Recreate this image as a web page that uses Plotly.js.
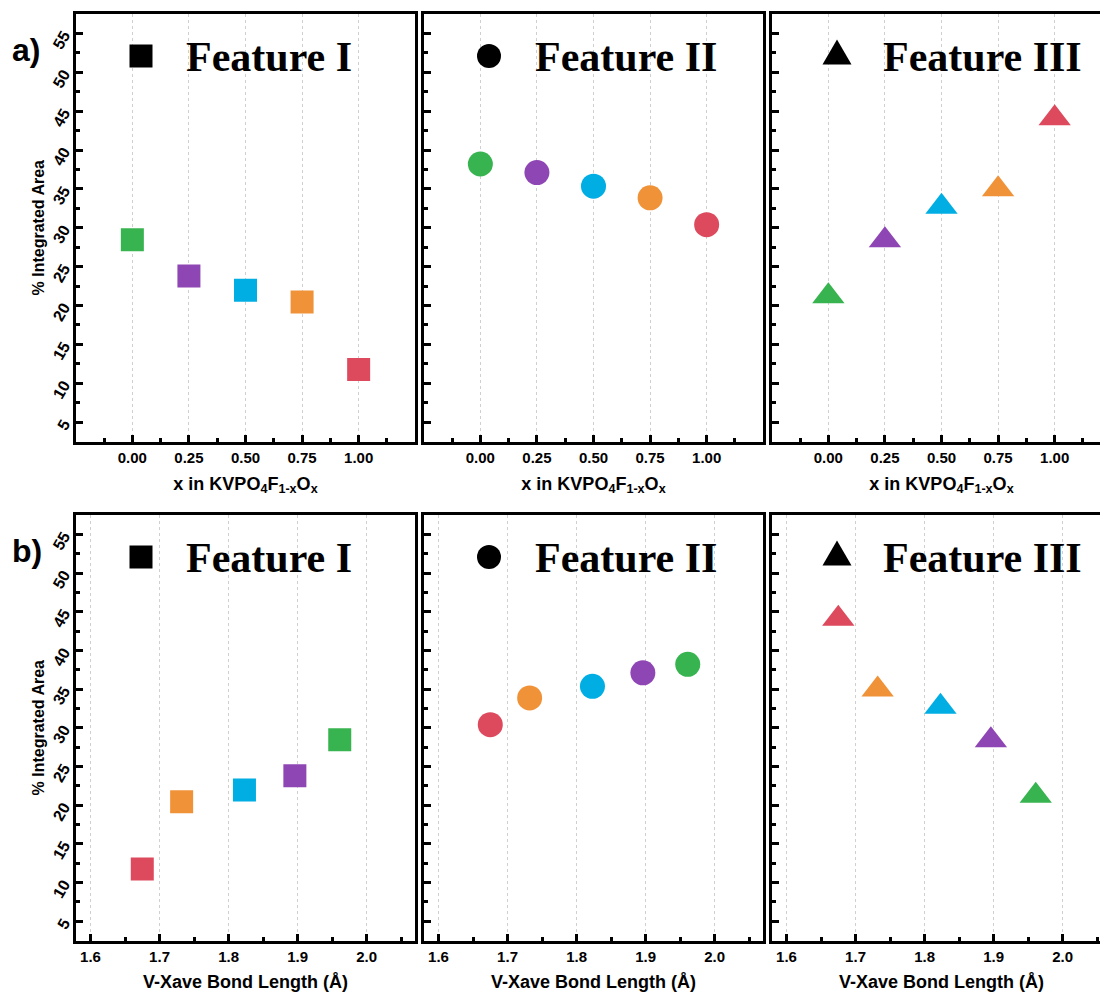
<!DOCTYPE html>
<html>
<head>
<meta charset="utf-8">
<script src="https://cdn.plot.ly/plotly-3.0.1.min.js"></script>
<style>html,body{margin:0;padding:0;overflow:hidden;background:#fff;}</style>
</head>
<body>
<div id="chart"></div>
<script>
// ---- data ----
const xComp = [0.00, 0.25, 0.50, 0.75, 1.00];
const bondLength = [1.961, 1.896, 1.823, 1.732, 1.675];
const featureI = [28.45, 23.8, 21.95, 20.45, 11.75];
const featureII = [38.2, 37.1, 35.35, 33.85, 30.4];
const featureIII = [21.2, 28.4, 32.7, 34.95, 44.1];
const pointColors = ['#37B34F', '#8E46B4', '#00AEE4', '#F09238', '#DD4A5D'];
const featureNames = ['Feature I', 'Feature II', 'Feature III'];
const panelLabels = ['a)', 'b)'];
const topXTitle = 'x in KVPO<sub>4</sub>F<sub>1-x</sub>O<sub>x</sub>';
const botXTitle = 'V-Xave Bond Length (Å)';
const yTitle = '% Integrated Area';

const W = 1120, H = 992;
const colPx = [[76, 415], [424, 763], [772, 1111]];
const rowPx = [[14, 441.5], [515, 940.5]];

const series = [featureI, featureII, featureIII];
const symbols = ['square', 'circle', 'triangle-up'];
const sizes = [23, 25, 28];

const tickFont = {family: 'Liberation Sans, Arial, sans-serif', size: 15, weight: 'bold', color: '#000'};
const yTickFont = {family: 'Liberation Sans, Arial, sans-serif', size: 16, weight: 'bold', color: '#000'};
const titleFont = {family: 'Liberation Sans, Arial, sans-serif', size: 18, weight: 'bold', color: '#000'};

const traces = [];
const layout = {
  width: W, height: H,
  margin: {l: 0, r: 0, t: 0, b: 0},
  paper_bgcolor: '#fff', plot_bgcolor: '#fff',
  showlegend: false,
  annotations: [], shapes: []
};

function axBase() {
  return {
    showline: true, linewidth: 3, linecolor: '#000', mirror: true,
    ticks: 'inside', ticklen: 7, tickwidth: 2.5, tickcolor: '#000',
    zeroline: false, tickfont: tickFont, fixedrange: true
  };
}

for (let r = 0; r < 2; r++) {
  for (let c = 0; c < 3; c++) {
    const idx = r * 3 + c + 1;
    const xn = 'xaxis' + (idx === 1 ? '' : idx);
    const yn = 'yaxis' + (idx === 1 ? '' : idx);
    const xs = r === 0 ? xComp : bondLength;
    traces.push({
      type: 'scatter', mode: 'markers',
      x: xs, y: series[c],
      xaxis: 'x' + (idx === 1 ? '' : idx), yaxis: 'y' + (idx === 1 ? '' : idx),
      marker: {symbol: symbols[c], size: sizes[c], color: pointColors, line: {width: 0}},
      hoverinfo: 'x+y'
    });
    const xa = axBase();
    xa.domain = [colPx[c][0] / W, colPx[c][1] / W];
    xa.anchor = 'y' + (idx === 1 ? '' : idx);
    xa.showgrid = true; xa.gridcolor = '#cfcfcf'; xa.griddash = 'dot'; xa.gridwidth = 1;
    if (r === 0) {
      xa.range = [-0.249, 1.249]; xa.tick0 = 0; xa.dtick = 0.25; xa.tickformat = '.2f';
      xa.minor = {ticks: 'inside', ticklen: 4, tickwidth: 2.5, tickcolor: '#000', dtick: 0.125, tick0: 0, showgrid: false};
      xa.title = {text: topXTitle, font: titleFont, standoff: 13};
    } else {
      xa.range = [1.579, 2.07]; xa.tick0 = 1.6; xa.dtick = 0.1; xa.tickformat = '.1f';
      xa.minor = {ticks: 'inside', ticklen: 4, tickwidth: 2.5, tickcolor: '#000', dtick: 0.05, tick0: 1.6, showgrid: false};
      xa.title = {text: botXTitle, font: titleFont, standoff: 14};
    }
    const ya = axBase();
    ya.domain = [1 - rowPx[r][1] / H, 1 - rowPx[r][0] / H];
    ya.anchor = 'x' + (idx === 1 ? '' : idx);
    ya.range = [2.5, 57.5]; ya.tick0 = 0; ya.dtick = 5;
    ya.showgrid = false;
    ya.tickangle = -60;
    ya.tickfont = yTickFont;
    ya.ticklabelstandoff = 6;
    ya.minor = {ticks: 'inside', ticklen: 4, tickwidth: 2.5, tickcolor: '#000', dtick: 2.5, tick0: 0, showgrid: false};
    if (c === 0) {
      ya.title = {text: yTitle, font: {family: titleFont.family, size: 16, weight: 'bold', color: '#000'}, standoff: 2};
    } else {
      ya.showticklabels = false;
    }
    layout[xn] = xa;
    layout[yn] = ya;

    // feature headers
    const txtCenters = [269, 626, 982];
    const glyphX = [141, 489, 837];
    const yOff = rowPx[r][0] - 14;
    layout.annotations.push({
      xref: 'paper', yref: 'paper', x: txtCenters[c] / W, y: 1 - (57 + yOff) / H,
      xanchor: 'center', yanchor: 'middle', showarrow: false,
      text: '<b>' + featureNames[c] + '</b>',
      font: {family: 'Liberation Serif, Times New Roman, serif', size: 42, color: '#000'}
    });
    const gx = glyphX[c] / W, gy = 1 - (56 + yOff) / H;
    if (c === 0) {
      layout.shapes.push({type: 'rect', xref: 'paper', yref: 'paper', xsizemode: 'pixel', ysizemode: 'pixel',
        xanchor: gx, yanchor: gy, x0: -11.5, x1: 11.5, y0: -11.5, y1: 11.5,
        fillcolor: '#000', line: {width: 0}});
    } else if (c === 1) {
      layout.shapes.push({type: 'circle', xref: 'paper', yref: 'paper', xsizemode: 'pixel', ysizemode: 'pixel',
        xanchor: gx, yanchor: gy, x0: -12, x1: 12, y0: -12, y1: 12,
        fillcolor: '#000', line: {width: 0}});
    } else {
      layout.shapes.push({type: 'path', xref: 'paper', yref: 'paper', xsizemode: 'pixel', ysizemode: 'pixel',
        xanchor: gx, yanchor: 1 - (52 + yOff) / H,
        path: 'M -14.5,-12.5 L 14.5,-12.5 L 0,12.5 Z',
        fillcolor: '#000', line: {width: 0}});
    }
  }
  layout.annotations.push({
    xref: 'paper', yref: 'paper', x: 10 / W, y: 1 - (rowPx[r][0] + 36) / H,
    xanchor: 'left', yanchor: 'middle', showarrow: false,
    text: '<b>' + panelLabels[r] + '</b>',
    font: {family: 'Liberation Sans, Arial, sans-serif', size: 32, color: '#000'}
  });
}

Plotly.newPlot('chart', traces, layout, {displayModeBar: false, staticPlot: false});
</script>
</body>
</html>
